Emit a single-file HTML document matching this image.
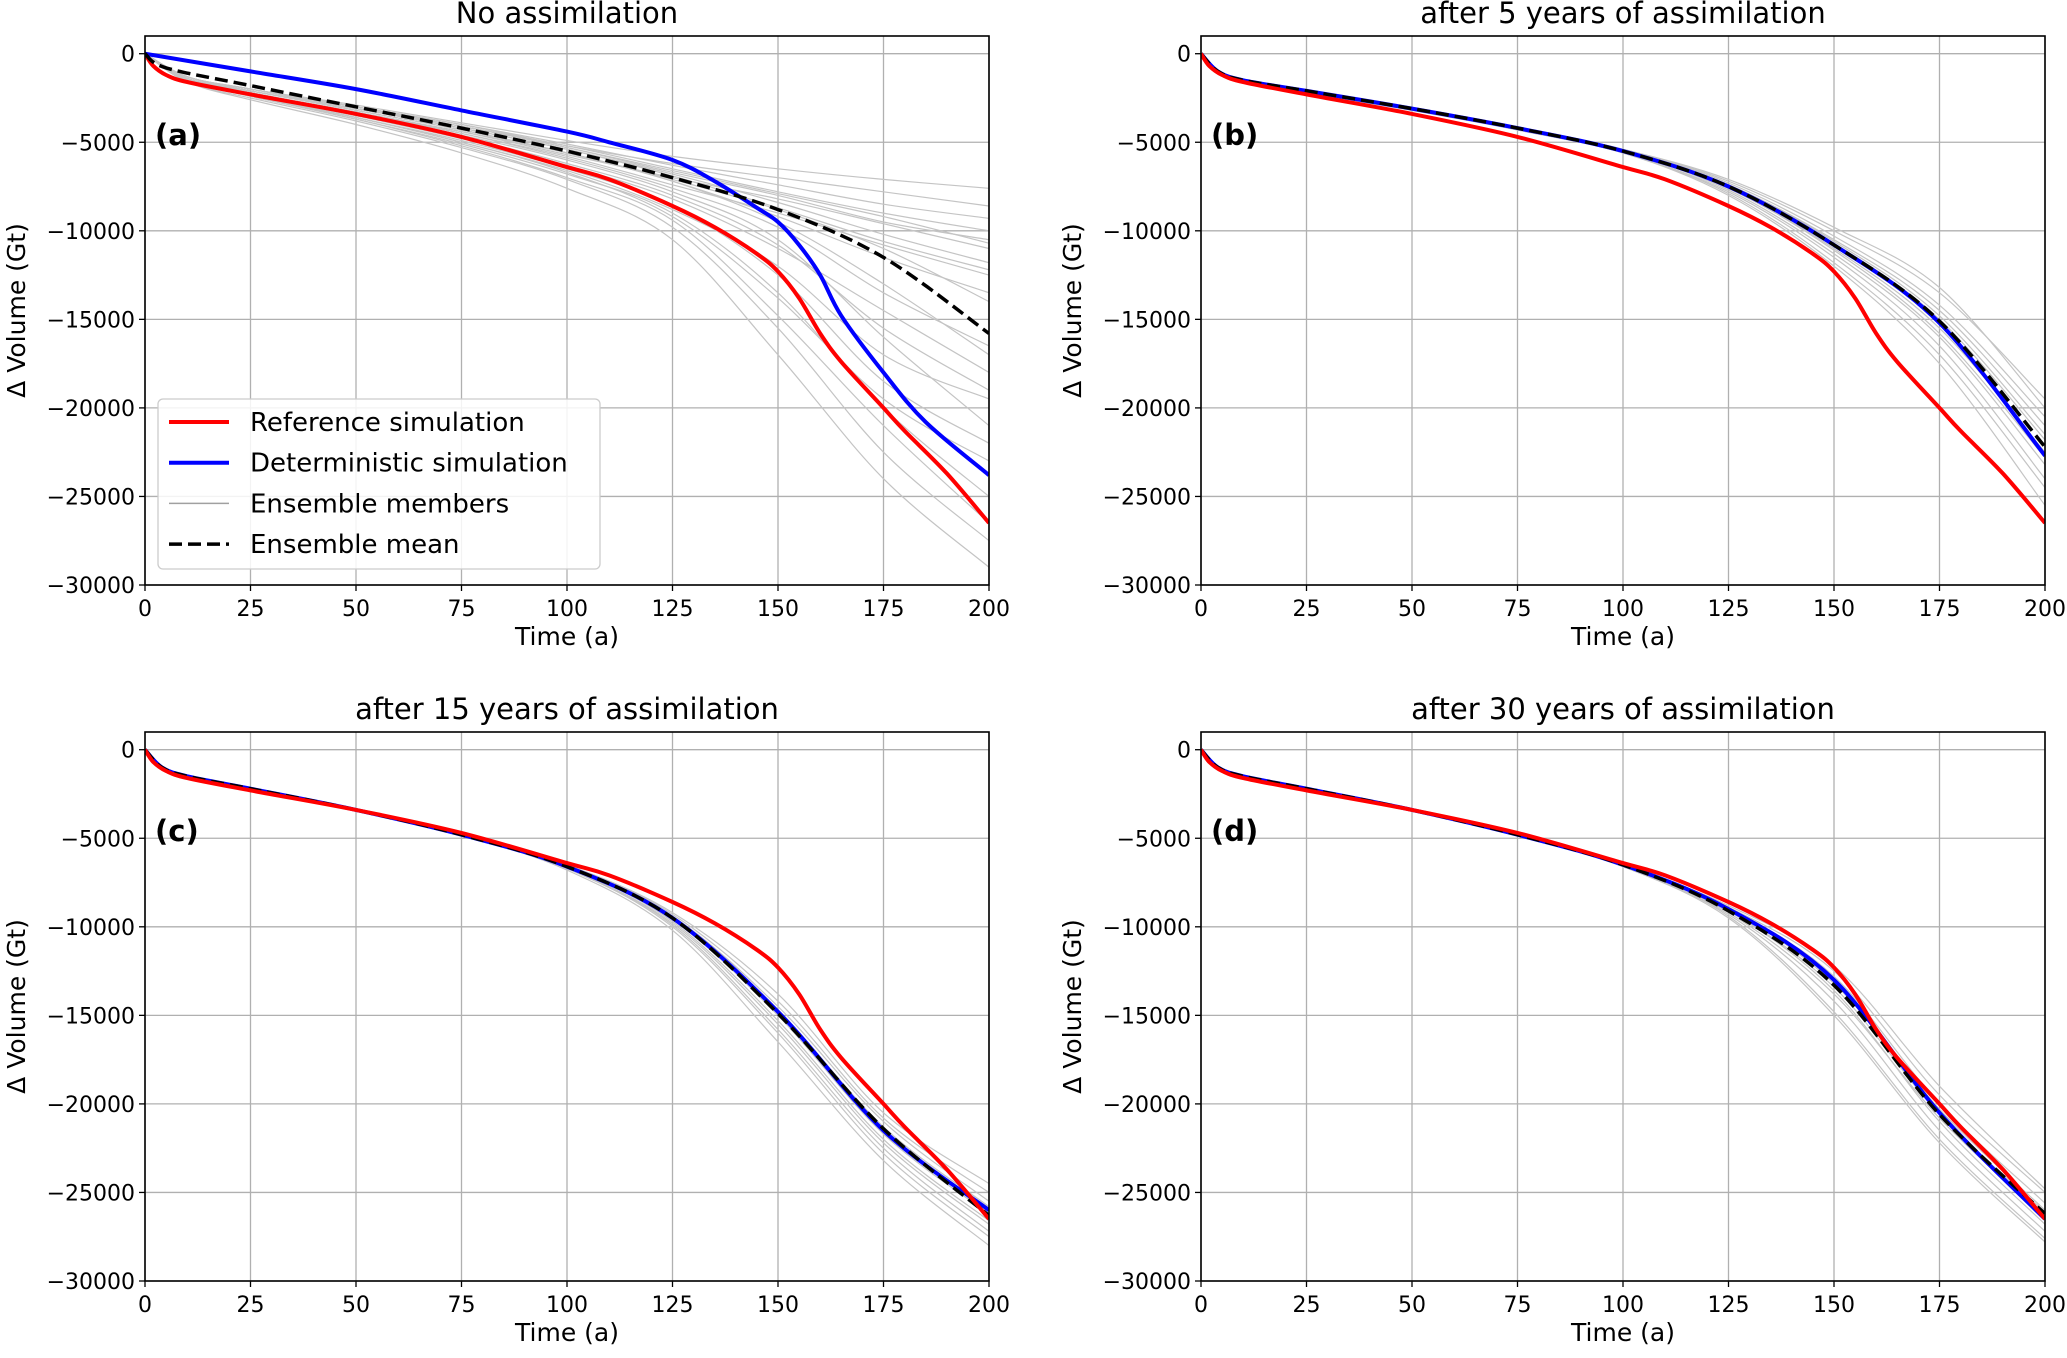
<!DOCTYPE html>
<html><head><meta charset="utf-8">
<style>
html,body{margin:0;padding:0;background:#fff;}
svg text{font-family:"DejaVu Sans","Liberation Sans",sans-serif;}
</style></head>
<body>
<svg id="fig" width="2067" height="1353" viewBox="0 0 2067 1353" xmlns="http://www.w3.org/2000/svg"></svg>
<script>
const xTicks=[0,25,50,75,100,125,150,175,200];
const yTicks=[0,-5000,-10000,-15000,-20000,-25000,-30000];
const titles=["No assimilation","after 5 years of assimilation","after 15 years of assimilation","after 30 years of assimilation"];
const panelLabels=["(a)","(b)","(c)","(d)"];
const T=[0,10,25,50,75,100,125,150,175,200];
const T2=[0,4,10,25,50,75,100,125,150,175,200];
const refT=[0,2,5,10,25,50,75,100,110,125,135,145,150,155,160,165,175,180,190,200];
const refV=[0,-700,-1200,-1600,-2300,-3400,-4700,-6400,-7100,-8600,-9800,-11300,-12300,-13800,-15800,-17400,-20000,-21300,-23700,-26500];
const detT_a=[0,25,50,75,100,110,125,135,145,150,155,160,165,175,185,200];
const detV_a=[0,-1000,-2000,-3200,-4400,-5000,-6000,-7200,-8700,-9500,-10800,-12500,-14800,-18000,-20800,-23800];
const meanT_a=[0,5,25,50,75,100,125,150,175,200];
const meanV_a=[0,-800,-1800,-3000,-4200,-5500,-7000,-8800,-11500,-15800];
const detV_b=[0,-1000,-1500,-2100,-3100,-4200,-5500,-7500,-10800,-15200,-22700];
const meanV_b=[0,-1000,-1500,-2100,-3100,-4200,-5500,-7500,-10800,-15100,-22200];
const detV_c=[0,-1000,-1500,-2200,-3400,-4800,-6600,-9500,-14800,-21500,-26000];
const meanV_c=[0,-1000,-1500,-2200,-3400,-4800,-6600,-9500,-14900,-21400,-26300];
const detV_d=[0,-1000,-1500,-2200,-3400,-4800,-6500,-9000,-13000,-20500,-26500];
const meanV_d=[0,-1000,-1500,-2200,-3400,-4800,-6500,-9100,-13300,-20600,-26200];
const members_a=[
[0,-1400,-2200,-3300,-4400,-5700,-7000,-8200,-9600,-11000],
[0,-1300,-2000,-3000,-4000,-5200,-6200,-7000,-7800,-8600],
[0,-1300,-2000,-2900,-3900,-4900,-5800,-6500,-7100,-7600],
[0,-1400,-2100,-3200,-4300,-5600,-7200,-9200,-11500,-13500],
[0,-1500,-2300,-3500,-4800,-6300,-8200,-11000,-14500,-18000],
[0,-1500,-2400,-3700,-5100,-6800,-9000,-13500,-20000,-25000],
[0,-1600,-2500,-3800,-5300,-7100,-9800,-15500,-22500,-27500],
[0,-1600,-2600,-4000,-5600,-7600,-10500,-17000,-24000,-29000],
[0,-1400,-2200,-3400,-4600,-6000,-7800,-10500,-16000,-21000],
[0,-1400,-2100,-3200,-4300,-5600,-7200,-9500,-13000,-17000],
[0,-1300,-2000,-3100,-4100,-5300,-6700,-8000,-9500,-10500],
[0,-1500,-2300,-3600,-4900,-6500,-8600,-12500,-18500,-22000],
[0,-1400,-2200,-3300,-4500,-5800,-7400,-9000,-10800,-12500],
[0,-1500,-2400,-3600,-5000,-6600,-8800,-12000,-17000,-19500],
[0,-1300,-2100,-3100,-4200,-5400,-6800,-8400,-10200,-11800],
[0,-1500,-2400,-3700,-5200,-7000,-9400,-14800,-21000,-26500],
[0,-1300,-2000,-3000,-4000,-5100,-6300,-7400,-8500,-9300],
[0,-1300,-2000,-3000,-4100,-5200,-6500,-7800,-9000,-10000],
[0,-1400,-2100,-3100,-4200,-5400,-6900,-8700,-10600,-12200],
[0,-1400,-2200,-3300,-4400,-5600,-7100,-8800,-11000,-14000],
[0,-1400,-2200,-3300,-4500,-5900,-7600,-9800,-13500,-16500],
[0,-1500,-2300,-3500,-4700,-6200,-8000,-10800,-15500,-19000],
[0,-1300,-2100,-3100,-4100,-5300,-6600,-7900,-9200,-10700],
[0,-1500,-2400,-3600,-5000,-6700,-9200,-13800,-19500,-23000]];
const members_b=[
[0,-1000,-1500,-2100,-3100,-4200,-5400,-7200,-10000,-13500,-19500],
[0,-1000,-1500,-2100,-3100,-4200,-5500,-7400,-10500,-14500,-21000],
[0,-1000,-1500,-2100,-3100,-4200,-5500,-7600,-11000,-15500,-22500],
[0,-1000,-1500,-2100,-3100,-4300,-5600,-7800,-11500,-16500,-24000],
[0,-1000,-1500,-2200,-3200,-4300,-5600,-8000,-12000,-17500,-25500],
[0,-1000,-1500,-2100,-3100,-4200,-5400,-7300,-10300,-14200,-20500],
[0,-1000,-1500,-2100,-3100,-4200,-5500,-7700,-11300,-16000,-23200],
[0,-1000,-1500,-2100,-3100,-4200,-5500,-7500,-10700,-15000,-21800],
[0,-1000,-1500,-2100,-3100,-4300,-5600,-7900,-11800,-17000,-24500],
[0,-1000,-1500,-2100,-3100,-4200,-5400,-7100,-9800,-13200,-20000],
[0,-1000,-1500,-2100,-3100,-4200,-5500,-7600,-11100,-15800,-22800],
[0,-1000,-1500,-2100,-3100,-4200,-5500,-7400,-10600,-14800,-21500]];
const members_c=[
[0,-1000,-1500,-2200,-3400,-4800,-6500,-9200,-13800,-20500,-24500],
[0,-1000,-1500,-2200,-3400,-4800,-6600,-9400,-14500,-21000,-25500],
[0,-1000,-1500,-2200,-3400,-4800,-6700,-9800,-15500,-22200,-26800],
[0,-1000,-1500,-2200,-3400,-4800,-6700,-10000,-16000,-22800,-27500],
[0,-1000,-1500,-2200,-3400,-4800,-6800,-10200,-16500,-23200,-28000],
[0,-1000,-1500,-2200,-3400,-4800,-6600,-9600,-15000,-21700,-26200],
[0,-1000,-1500,-2200,-3400,-4800,-6500,-9300,-14200,-20800,-25000],
[0,-1000,-1500,-2200,-3400,-4800,-6600,-9700,-15300,-22000,-26600],
[0,-1000,-1500,-2200,-3400,-4800,-6700,-9900,-15800,-22500,-27200],
[0,-1000,-1500,-2200,-3400,-4800,-6600,-9500,-14700,-21300,-25800]];
const members_d=[
[0,-1000,-1500,-2200,-3400,-4800,-6500,-8900,-12500,-19500,-25000],
[0,-1000,-1500,-2200,-3400,-4800,-6500,-9100,-13600,-21000,-26800],
[0,-1000,-1500,-2200,-3400,-4800,-6600,-9300,-14200,-21500,-27200],
[0,-1000,-1500,-2200,-3400,-4800,-6600,-9400,-14800,-22000,-27600],
[0,-1000,-1500,-2200,-3400,-4800,-6500,-8800,-12200,-19000,-24800],
[0,-1000,-1500,-2200,-3400,-4800,-6500,-9000,-13200,-20300,-26000],
[0,-1000,-1500,-2200,-3400,-4800,-6500,-9200,-13800,-20800,-26400],
[0,-1000,-1500,-2200,-3400,-4800,-6600,-9500,-15000,-22200,-27800],
[0,-1000,-1500,-2200,-3400,-4800,-6500,-9000,-12800,-20000,-25600],
[0,-1000,-1500,-2200,-3400,-4800,-6500,-9100,-13400,-20600,-26100]];

const NS="http://www.w3.org/2000/svg";
const svg=document.getElementById('fig');
function mk(tag,attrs,parent){const e=document.createElementNS(NS,tag);for(const k in attrs)e.setAttribute(k,attrs[k]);(parent||svg).appendChild(e);return e;}
const W=844,H=549;
const panels=[{x:145,y:36},{x:1201,y:36},{x:145,y:732},{x:1201,y:732}];
function pathD(xs,ys,sx,sy){
  const p=xs.map((t,i)=>[sx(t),sy(ys[i])]);
  let d="M"+p[0][0].toFixed(1)+","+p[0][1].toFixed(1);
  for(let i=0;i<p.length-1;i++){
    const p0=p[i-1]||p[i],p1=p[i],p2=p[i+1],p3=p[i+2]||p[i+1];
    const c1=[p1[0]+(p2[0]-p0[0])/6,p1[1]+(p2[1]-p0[1])/6];
    const c2=[p2[0]-(p3[0]-p1[0])/6,p2[1]-(p3[1]-p1[1])/6];
    d+="C"+c1[0].toFixed(1)+","+c1[1].toFixed(1)+" "+c2[0].toFixed(1)+","+c2[1].toFixed(1)+" "+p2[0].toFixed(1)+","+p2[1].toFixed(1);
  }
  return d;
}
const allMembers=[members_a,members_b,members_c,members_d];
const memberT=[T,T2,T2,T2];
const dets=[[detT_a,detV_a],[T2,detV_b],[T2,detV_c],[T2,detV_d]];
const means=[[meanT_a,meanV_a],[T2,meanV_b],[T2,meanV_c],[T2,meanV_d]];
panels.forEach((P,pi)=>{
  const g=mk('g',{});
  
  
  const sx=t=>P.x+t/200*W;
  const sy=v=>P.y+(1000-v)/31000*H;
  const clip=mk('clipPath',{id:'c'+pi},g);mk('rect',{x:P.x,y:P.y,width:W,height:H},clip);
  xTicks.forEach(t=>{
    const l=mk('line',{x1:sx(t),x2:sx(t),y1:P.y,y2:P.y+H,stroke:'#b0b0b0','stroke-width':1.3},g);
    
    mk('line',{x1:sx(t),x2:sx(t),y1:P.y+H,y2:P.y+H+6,stroke:'#000','stroke-width':1.3},g);
    const tx=mk('text',{x:sx(t),y:P.y+H+31,'font-size':22,'text-anchor':'middle'},g);tx.textContent=t;
    
  });
  yTicks.forEach(v=>{
    const l=mk('line',{x1:P.x,x2:P.x+W,y1:sy(v),y2:sy(v),stroke:'#b0b0b0','stroke-width':1.3},g);
    
    mk('line',{x1:P.x-6,x2:P.x,y1:sy(v),y2:sy(v),stroke:'#000','stroke-width':1.3},g);
    const tx=mk('text',{x:P.x-10,y:sy(v)+8,'font-size':22,'text-anchor':'end'},g);tx.textContent=v<0?'\u2212'+(-v):v;
    
  });
  const cg=mk('g',{'clip-path':'url(#c'+pi+')'},g);
  allMembers[pi].forEach(m=>{
    const p=mk('path',{d:pathD(memberT[pi],m,sx,sy),fill:'none',stroke:'#c4c4c4','stroke-width':1.2},cg);
    
  });
  const order=pi==0?['ref','det','mean']:['det','mean','ref'];
  order.forEach(k=>{
    let p;
    if(k=='ref')p=mk('path',{d:pathD(refT,refV,sx,sy),fill:'none',stroke:'#ff0000','stroke-width':4},cg);
    if(k=='det')p=mk('path',{d:pathD(dets[pi][0],dets[pi][1],sx,sy),fill:'none',stroke:'#0000ff','stroke-width':4},cg);
    if(k=='mean')p=mk('path',{d:pathD(means[pi][0],means[pi][1],sx,sy),fill:'none',stroke:'#000','stroke-width':3.5,'stroke-dasharray':'13,6'},cg);
    
    
  });
  const fr=mk('rect',{x:P.x,y:P.y,width:W,height:H,fill:'none',stroke:'#000','stroke-width':1.6},g);
  
  const ti=mk('text',{x:P.x+W/2,y:P.y-13,'font-size':29,'text-anchor':'middle'},g);ti.textContent=titles[pi];
  
  const pl=mk('text',{x:P.x+10,y:P.y+109,'font-size':29,'font-weight':'bold'},g);pl.textContent=panelLabels[pi];
  
  const xl=mk('text',{x:P.x+W/2,y:P.y+H+60,'font-size':25,'text-anchor':'middle'},g);xl.textContent='Time (a)';
  
  const yx=P.x-120,yy=P.y+H/2;
  const yl=mk('text',{x:yx,y:yy,'font-size':25,'text-anchor':'middle',transform:'rotate(-90 '+yx+' '+yy+')'},g);yl.textContent='\u0394 Volume (Gt)';
  
});
// legend
const lg=mk('g',{});


mk('rect',{x:158,y:399,width:442,height:170,rx:5,fill:'#fff','fill-opacity':0.85,stroke:'#ccc','stroke-width':1.3},lg);
const legItems=[['Reference simulation','#ff0000',4,''],['Deterministic simulation','#0000ff',4,''],['Ensemble members','#a0a0a0',1.5,''],['Ensemble mean','#000',3.5,'13,6']];
legItems.forEach((it,i)=>{
  const y=422+i*40.7;
  const ln=mk('line',{x1:169,x2:229,y1:y,y2:y,stroke:it[1],'stroke-width':it[2],'stroke-dasharray':it[3]||'none'},lg);
  
  const t=mk('text',{x:250,y:y+9,'font-size':26},lg);t.textContent=it[0];
  
});
</script>
</body></html>
